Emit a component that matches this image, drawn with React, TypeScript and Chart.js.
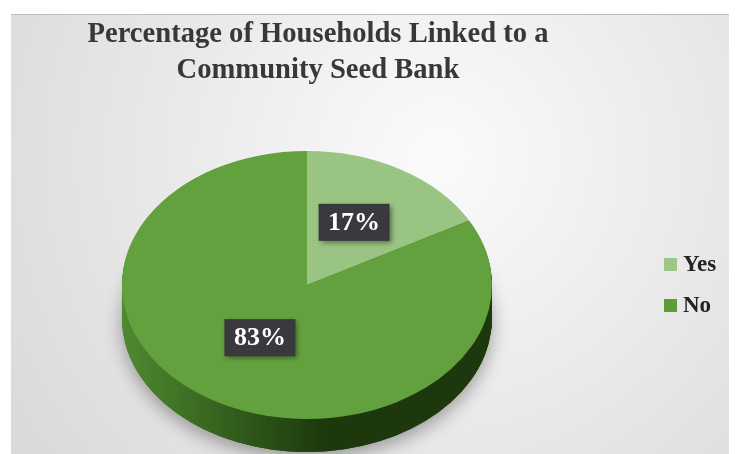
import React, { useEffect, useRef } from 'react';
import { Chart, registerables } from 'chart.js';

Chart.register(...registerables);

// Survey answers and their share of households (%)
const categories = ['Yes', 'No'];
const shares = [17, 83];
const faceColors = ['#99c481', '#63a03e'];
const legendColors = ['#9cc788', '#5e9e3a'];
// side wall shading of each slice: [left, right]
const sideColors = [
  ['#7fae68', '#4f7a3a'],
  ['#4e8a30', '#1c380c'],
];
const titleLines = ['Percentage of Households Linked to a', 'Community Seed Bank'];

const TILT = 134 / 185; // vertical squash of the pie face
const DEPTH = 33; // thickness of the pie wall in px
const SERIF = '"Liberation Serif", "Times New Roman", serif';

const backdrop = {
  id: 'backdrop',
  beforeDraw(chart: any) {
    const { ctx, width, height } = chart;
    ctx.save();
    ctx.fillStyle = '#ffffff';
    ctx.fillRect(0, 0, width, height);
    const g = ctx.createRadialGradient(430, 150, 0, 430, 150, 560);
    g.addColorStop(0, '#fbfbfb');
    g.addColorStop(1, '#d6d6d6');
    ctx.fillStyle = g;
    ctx.fillRect(3, 6, width - 3, height - 6);
    ctx.fillStyle = '#bdbdbd';
    ctx.fillRect(3, 6, width - 3, 1);

    // two-line heading
    ctx.fillStyle = '#383838';
    ctx.font = `bold 28.6px ${SERIF}`;
    ctx.textAlign = 'center';
    ctx.textBaseline = 'alphabetic';
    titleLines.forEach((line, i) => ctx.fillText(line, 310, 34 + i * 36));
    ctx.restore();
  },
  afterDraw(chart: any) {
    // legend: colour swatch + label
    const { ctx } = chart;
    ctx.save();
    ctx.font = `bold 23px ${SERIF}`;
    ctx.textAlign = 'left';
    ctx.textBaseline = 'middle';
    categories.forEach((name, i) => {
      const y = 256 + i * 41;
      ctx.fillStyle = legendColors[i];
      ctx.fillRect(656, y - 6, 13, 13);
      ctx.fillStyle = '#222222';
      ctx.fillText(name, 675, y + 1);
    });
    ctx.restore();
  },
};

function slicePath(ctx: CanvasRenderingContext2D, arc: any) {
  ctx.beginPath();
  ctx.moveTo(0, 0);
  ctx.arc(0, 0, arc.outerRadius, arc.startAngle, arc.endAngle);
  ctx.closePath();
}

const pieDepth = {
  id: 'pieDepth',
  beforeDatasetsDraw(chart: any) {
    const { ctx } = chart;
    const arcs = chart.getDatasetMeta(0).data;
    if (!arcs.length) return;
    const cx = arcs[0].x;
    const cy = arcs[0].y;
    const r = arcs[0].outerRadius;

    // soft drop shadow under the disc
    ctx.save();
    ctx.shadowColor = 'rgba(0,0,0,0.35)';
    ctx.shadowBlur = 18;
    ctx.shadowOffsetY = 6;
    ctx.fillStyle = '#2a5017';
    ctx.beginPath();
    ctx.ellipse(cx, cy + DEPTH, r, r * TILT, 0, 0, Math.PI * 2);
    ctx.fill();
    ctx.restore();

    // wall: stack the slices downward
    for (let d = DEPTH; d > 0; d--) {
      arcs.forEach((arc: any, i: number) => {
        ctx.save();
        ctx.translate(cx, cy + d);
        ctx.scale(1, TILT);
        const g = ctx.createLinearGradient(-r, 0, r, 0);
        g.addColorStop(0, sideColors[i][0]);
        g.addColorStop(0.55, sideColors[i][1]);
        g.addColorStop(1, sideColors[i][1]);
        ctx.fillStyle = g;
        slicePath(ctx, arc);
        ctx.fill();
        ctx.restore();
      });
    }

    // face drawn by Chart.js in squashed space
    ctx.save();
    ctx.translate(cx, cy);
    ctx.scale(1, TILT);
    ctx.translate(-cx, -cy);
  },
  afterDatasetsDraw(chart: any) {
    const { ctx } = chart;
    ctx.restore();
    const arcs = chart.getDatasetMeta(0).data;
    const values = chart.data.datasets[0].data as number[];
    arcs.forEach((arc: any, i: number) => {
      const mid = (arc.startAngle + arc.endAngle) / 2;
      const px = arc.x + Math.cos(mid) * arc.outerRadius * 0.5;
      // labels sit slightly toward the back of the tilted disc
      const py = arc.y + Math.sin(mid) * arc.outerRadius * 0.5 * TILT - 5;
      const text = `${values[i]}%`;
      ctx.save();
      ctx.font = `bold 26px ${SERIF}`;
      const w = ctx.measureText(text).width + 19;
      const h = 37;
      const x0 = px - w / 2;
      const y0 = py - h / 2;
      ctx.shadowColor = 'rgba(0,0,0,0.45)';
      ctx.shadowBlur = 5;
      ctx.shadowOffsetX = 2;
      ctx.shadowOffsetY = 2;
      ctx.fillStyle = '#3a383f';
      ctx.fillRect(x0, y0, w, h);
      ctx.shadowColor = 'transparent';
      ctx.fillStyle = 'rgba(255,255,255,0.07)';
      for (let yy = y0 + 2; yy < y0 + h; yy += 4) {
        for (let xx = x0 + 2; xx < x0 + w; xx += 4) ctx.fillRect(xx, yy, 1, 1);
      }
      ctx.fillStyle = '#ffffff';
      ctx.textAlign = 'center';
      ctx.textBaseline = 'middle';
      ctx.fillText(text, px, py + 1);
      ctx.restore();
    });
  },
};

export default function App() {
  const ref = useRef<HTMLCanvasElement>(null);
  useEffect(() => {
    const chart = new Chart(ref.current as HTMLCanvasElement, {
      type: 'pie',
      data: {
        labels: categories,
        datasets: [
          {
            data: shares,
            backgroundColor: faceColors,
            borderWidth: 0,
            radius: 185,
            clip: false,
          } as any,
        ],
      },
      options: {
        animation: false,
        responsive: false,
        devicePixelRatio: 1,
        layout: { padding: { left: 0, right: 131, top: 108, bottom: 0 } },
        plugins: {
          legend: { display: false },
          tooltip: { enabled: false },
          title: { display: false },
        },
      } as any,
      plugins: [backdrop, pieDepth],
    });
    return () => chart.destroy();
  }, []);
  return <canvas ref={ref} width={729} height={446} style={{ display: 'block' }} />;
}
